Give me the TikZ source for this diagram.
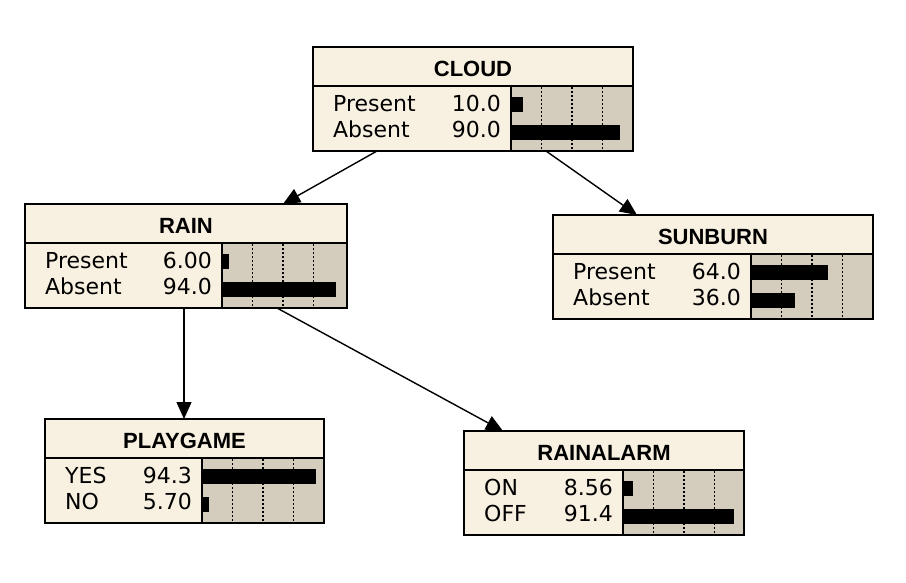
\documentclass[tikz,border=0pt]{standalone}
\usepackage{fontspec}
\setmainfont{DejaVu Sans}
\newfontfamily\titlefont{Liberation Sans}
\usetikzlibrary{arrows.meta,calc}
\definecolor{cream}{RGB}{248,240,224}
\definecolor{barbg}{RGB}{212,204,188}
\tikzset{
  boxframe/.style={draw=black, line width=2pt, inner sep=0pt, outer sep=0pt, anchor=north west},
  sepline/.style={draw=black, line width=2pt},
  dotline/.style={draw=black, line width=1.5pt, dash pattern=on 2pt off 2pt},
  titletext/.style={inner sep=0pt, anchor=base, font=\titlefont\bfseries\fontsize{22}{26}\selectfont},
  rowlabel/.style={inner sep=0pt, anchor=base west, font=\fontsize{22}{26}\selectfont},
  rowvalue/.style={inner sep=0pt, anchor=base east, font=\fontsize{22}{26}\selectfont},
  conn/.style={draw=black, line width=1.4pt, -{Triangle[length=17pt,width=15pt]}}
}
% #1 name, #2 left, #3 top, #4 right, #5 bar left, #6 title, #7 rows label/value/percent
\newcommand\bnbox[7]{%
  \fill[cream] (#2,-#3) rectangle (#4,-#3-104);
  \fill[barbg] (#5,-#3-39) rectangle (#4,-#3-104);
  \foreach \k in {1,2,3} {\draw[dotline] (#5+30.5*\k,-#3-40) -- (#5+30.5*\k,-#3-103);}
  \foreach \l/\v/\p [count=\i] in {#7} {
    \node[rowlabel] (#1-l\i) at (#2+20,-#3-64-26*\i+26) {\l};
    \node[rowvalue] (#1-v\i) at (#5-10,-#3-64-26*\i+26) {\v};
    \fill[black] (#5,-#3-50-28*\i+28) rectangle (#5+1.21*\p,-#3-65-28*\i+28);
  }
  \node[boxframe, minimum width=#4-#2, minimum height=104] (#1) at (#2,-#3) {};
  \draw[sepline] (#2,-#3-39) -- (#4,-#3-39);
  \draw[sepline] (#5,-#3-39) -- (#5,-#3-104);
  \node[titletext] (#1-title) at ({(#2+#4)/2},-#3-29) {#6};
}
\begin{document}
\begin{tikzpicture}[x=1pt,y=1pt]
\useasboundingbox[fill=white] (0,0) rectangle (906,-582);
\bnbox{cloud}{313}{47}{633}{511}{CLOUD}{Present/10.0/10,Absent/90.0/90}
\bnbox{rain}{25}{204}{347}{222}{RAIN}{Present/6.00/6,Absent/94.0/94}
\bnbox{sunburn}{553}{215}{873}{751}{SUNBURN}{Present/64.0/64,Absent/36.0/36}
\bnbox{playgame}{45}{419}{324}{202}{PLAYGAME}{YES/94.3/94.3,NO/5.70/5.7}
\bnbox{rainalarm}{464}{431}{744}{623}{RAINALARM}{ON/8.56/8.56,OFF/91.4/91.4}
\draw[conn] ([xshift=64pt]cloud.south west) -- ([xshift=258pt]rain.north west);
\draw[conn] ([xshift=233pt]cloud.south west) -- ([xshift=84pt]sunburn.north west);
\draw[conn] ([xshift=159pt]rain.south west) -- ([xshift=139pt]playgame.north west);
\draw[conn] ([xshift=252pt]rain.south west) -- ([xshift=39pt]rainalarm.north west);
\end{tikzpicture}
\end{document}
